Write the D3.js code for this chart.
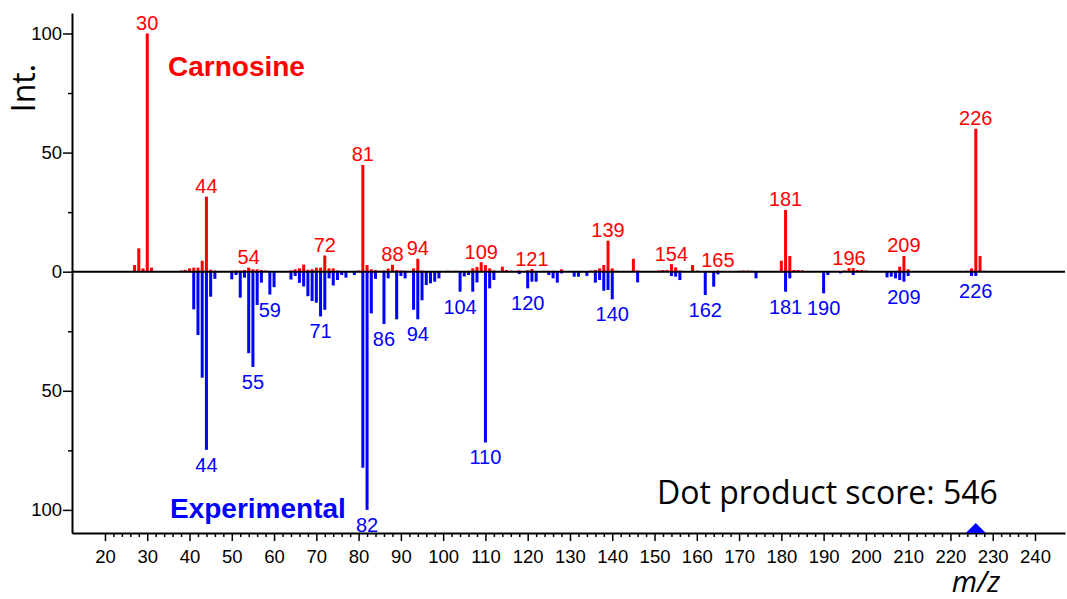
<!DOCTYPE html>
<html>
<head>
<meta charset="utf-8">
<script src="https://cdn.jsdelivr.net/npm/d3@7"></script>
<style>
  body { margin: 0; background: #fff; }
  svg { display: block; }
</style>
</head>
<body>
<div id="chart"></div>
<script>
// Carnosine (predicted) spectrum, drawn upward
const carnosineMz  = [27, 28, 29, 30, 31, 38, 39, 40, 41, 42, 43, 44, 45, 46, 50, 51, 52, 53, 54, 55, 56, 57, 58,
  64, 65, 66, 67, 68, 69, 70, 71, 72, 73, 74, 75, 80, 81, 82, 83, 84, 85, 86, 87, 88, 89, 90, 91, 93, 94, 95,
  96, 97, 98, 99, 100, 101, 102, 103, 106, 107, 108, 109, 110, 111, 112, 114, 115, 116, 118, 120, 121, 124,
  126, 128, 131, 133, 135, 136, 137, 138, 139, 140, 141, 145, 146, 151, 152, 153, 154, 155, 156, 159, 160,
  165, 170, 171, 172, 173, 180, 181, 182, 183, 184, 185, 195, 196, 197, 198, 199, 200, 208, 209, 210,
  224, 225, 226, 227, 228];
const carnosineInt = [2.8, 9.8, 1.4, 100, 1.7, 0.5, 0.7, 1.4, 1.7, 1.7, 4.6, 31.5, 0.8, 0.5, 0.4, 0.5, 0.5, 0.7, 1.7, 1.0, 1.0, 0.7, 0.5,
  0.5, 1.0, 1.4, 3.0, 0.8, 1.0, 1.7, 1.7, 6.8, 1.4, 1.4, 0.5, 0.5, 44.8, 2.8, 1.0, 0.7, 0.4, 0.5, 1.3, 2.9, 0.7, 0.5, 0.4, 1.4, 5.4, 0.5,
  0.3, 0.3, 0.3, 0.3, 0.3, 0.4, 0.3, 0.4, 0.4, 1.4, 2.0, 4.0, 2.8, 1.4, 0.5, 2.1, 0.7, 0.4, 0.5, 0.7, 1.1, 0.3,
  0.4, 1.0, 0.3, 0.3, 0.5, 0.7, 1.4, 2.8, 13.0, 1.4, 0.4, 5.4, 0.5, 0.5, 0.7, 0.7, 3.2, 1.8, 0.5, 2.8, 0.4,
  0.5, 0.4, 0.5, 0.5, 0.4, 4.6, 25.9, 6.6, 0.7, 0.7, 0.6, 0.5, 1.5, 1.5, 0.7, 0.7, 0.5, 2.1, 6.6, 1.0,
  0.4, 1.4, 60, 6.6, 0.4];

// Experimental spectrum, drawn downward
const experimentalMz  = [41, 42, 43, 44, 45, 46, 50, 51, 52, 53, 54, 55, 56, 57, 59, 60, 64, 65, 66, 67, 68, 69, 70,
  71, 72, 73, 74, 75, 76, 77, 79, 81, 82, 83, 84, 86, 87, 89, 90, 91, 93, 94, 95, 96, 97, 98, 99, 104, 105,
  106, 107, 108, 110, 111, 112, 118, 120, 121, 122, 125, 126, 127, 128, 131, 132, 134, 136, 137, 138, 139,
  140, 146, 154, 155, 156, 162, 164, 165, 174, 181, 182, 190, 191, 194, 197, 205, 206, 207, 208, 209, 210,
  225, 226];
const experimentalInt = [15.8, 26.6, 44.5, 74.8, 10.5, 3.0, 3.2, 1.4, 10.9, 2.5, 34.2, 40, 14, 4.6, 9.6, 6.5, 3.3, 1.8, 4.7, 6.2, 10.3, 12.3, 13,
  18.8, 16, 2.8, 5.8, 3.5, 1.4, 2.5, 1.4, 82.3, 100, 17.5, 3.0, 22, 2.8, 20, 1.8, 2.8, 16, 20, 12, 5.6, 4.9, 4.2, 2.8, 8.4, 2.0,
  1.4, 8.4, 4.5, 71.7, 7.0, 3.5, 1.0, 7.0, 4.2, 4.2, 1.4, 2.8, 4.6, 0.7, 2.1, 2.1, 1.8, 4.6, 3.5, 8.0, 7.7,
  11.6, 4.5, 1.8, 2.1, 3.5, 9.8, 6.3, 1.1, 2.8, 8.4, 2.8, 9.1, 1.4, 0.7, 1.4, 2.4, 2.1, 2.8, 3.5, 4.2, 1.8,
  1.8, 1.8];

// peaks that carry an m/z label
const carnosineLabels    = [30, 44, 54, 72, 81, 88, 94, 109, 121, 139, 154, 165, 181, 196, 209, 226];
const experimentalLabels = [44, 55, 59, 71, 82, 86, 94, 104, 110, 120, 140, 162, 181, 190, 209, 226];

const yMajorTicks = [-100, -50, 0, 50, 100];
const yMinorTicks = [-75, -25, 25, 75];
const xMajorTicks = d3.range(20, 241, 10);
const xMinorTicks = d3.range(22, 240, 2).filter(d => d % 10 !== 0);
const precursorMz = 226;
const dotScore = 546;

const W = 1067, H = 599;
const RED = "#ff0000", BLUE = "#0000ff";

const svg = d3.select("#chart")
  .append("svg")
  .attr("width", W)
  .attr("height", H);

const x = d3.scaleLinear().domain([12.2, 247.1]).range([72, 1065]);
const y = d3.scaleLinear().domain([-109.7, 108.6]).range([533, 13]);

const red = carnosineMz.map((m, i) => ({ mz: m, v: carnosineInt[i] }));
const blue = experimentalMz.map((m, i) => ({ mz: m, v: experimentalInt[i] }));
const barW = 3;

// Carnosine bars
svg.append("g").selectAll("rect")
  .data(red)
  .join("rect")
  .attr("x", d => x(d.mz) - barW / 2)
  .attr("y", d => y(d.v))
  .attr("width", barW)
  .attr("height", d => y(0) - y(d.v))
  .attr("fill", RED);

// Experimental bars
svg.append("g").selectAll("rect")
  .data(blue)
  .join("rect")
  .attr("x", d => x(d.mz) - barW / 2)
  .attr("y", y(0))
  .attr("width", barW)
  .attr("height", d => y(-d.v) - y(0))
  .attr("fill", BLUE);

// zero line
svg.append("line")
  .attr("x1", x.range()[0]).attr("x2", x.range()[1])
  .attr("y1", y(0)).attr("y2", y(0))
  .attr("stroke", "#000")
  .attr("stroke-width", 2);

// peak labels
const labelFont = "Liberation Sans, Arial, Helvetica, sans-serif";
svg.append("g").selectAll("text")
  .data(carnosineLabels)
  .join("text")
  .attr("x", m => x(m))
  .attr("y", m => {
    const v = red.find(d => d.mz === m).v;
    return Math.min(y(v) - 3.5, y(0) - 5);
  })
  .attr("text-anchor", "middle")
  .attr("font-family", labelFont)
  .attr("font-size", 20)
  .attr("fill", RED)
  .text(m => m);

svg.append("g").selectAll("text")
  .data(experimentalLabels)
  .join("text")
  .attr("x", m => x(m))
  .attr("y", m => {
    const v = blue.find(d => d.mz === m).v;
    return y(-v) + 22;
  })
  .attr("text-anchor", "middle")
  .attr("font-family", labelFont)
  .attr("font-size", 20)
  .attr("fill", BLUE)
  .text(m => m);

// Y axis
svg.append("g")
  .attr("transform", `translate(${x.range()[0]},0)`)
  .call(d3.axisLeft(y).tickValues(yMajorTicks).tickFormat(d => Math.abs(d))
    .tickSize(9).tickSizeOuter(0).tickPadding(1));
svg.append("g")
  .attr("transform", `translate(${x.range()[0]},0)`)
  .call(d3.axisLeft(y).tickValues(yMinorTicks).tickFormat("").tickSize(4).tickSizeOuter(0))
  .select(".domain").remove();

// X axis
svg.append("g")
  .attr("transform", `translate(0,${y.range()[0]})`)
  .call(d3.axisBottom(x).tickValues(xMajorTicks).tickSize(8).tickSizeOuter(0).tickPadding(9));
svg.append("g")
  .attr("transform", `translate(0,${y.range()[0]})`)
  .call(d3.axisBottom(x).tickValues(xMinorTicks).tickFormat("").tickSize(4).tickSizeOuter(0))
  .select(".domain").remove();

svg.selectAll(".domain").attr("stroke-width", 2);
svg.selectAll(".tick line").attr("stroke-width", 1.5);
svg.selectAll(".tick text")
  .attr("font-family", labelFont)
  .attr("font-size", 18.5)
  .attr("fill", "#000");

// precursor marker
const triSize = 10;
svg.append("path")
  .attr("d", `M${x(precursorMz) - triSize},${y.range()[0]} L${x(precursorMz)},${y.range()[0] - triSize} L${x(precursorMz) + triSize},${y.range()[0]} Z`)
  .attr("fill", BLUE);

// titles
svg.append("text")
  .attr("x", 168).attr("y", 76)
  .attr("font-family", labelFont)
  .attr("font-weight", "bold")
  .attr("font-size", 28)
  .attr("fill", RED)
  .text("Carnosine");

svg.append("text")
  .attr("x", 170).attr("y", 518)
  .attr("font-family", labelFont)
  .attr("font-weight", "bold")
  .attr("font-size", 28)
  .attr("fill", BLUE)
  .text("Experimental");

svg.append("text")
  .attr("transform", "translate(35,88) rotate(-90)")
  .attr("text-anchor", "middle")
  .attr("font-family", "Open Sans, sans-serif")
  .attr("font-size", 32)
  .attr("fill", "#000")
  .text("Int.");

svg.append("text")
  .attr("x", 976).attr("y", 592)
  .attr("text-anchor", "middle")
  .attr("font-family", "Open Sans, sans-serif")
  .attr("font-style", "italic")
  .attr("font-size", 29)
  .attr("fill", "#000")
  .text("m/z");

svg.append("text")
  .attr("x", 657).attr("y", 504)
  .attr("font-family", "Open Sans, sans-serif")
  .attr("font-size", 32)
  .attr("fill", "#000")
  .text(`Dot product score: ${dotScore}`);
</script>
</body>
</html>
